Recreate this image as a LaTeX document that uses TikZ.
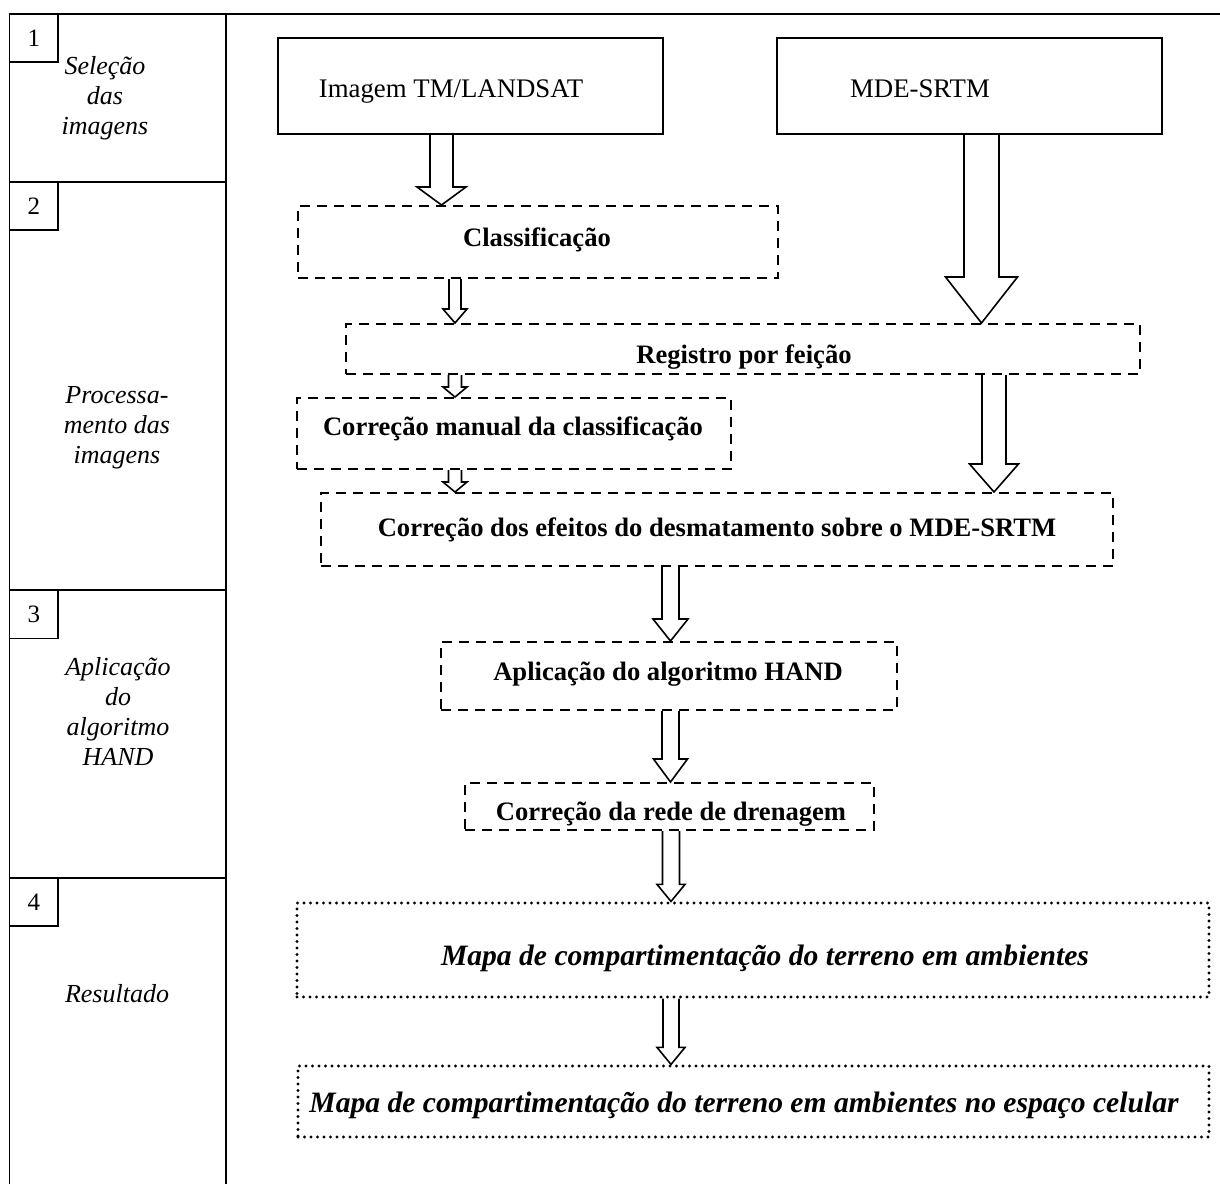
\documentclass[tikz,border=0pt]{standalone}
\usepackage{fontspec}
\setmainfont{Liberation Serif}
\usetikzlibrary{calc}

\tikzset{
  frame/.style={line width=0.8pt},
  solidbox/.style={draw, line width=0.8pt, inner sep=0pt},
  dashbox/.style={draw, line width=1pt, dash pattern=on 5pt off 3.5pt, inner sep=0pt},
  dotbox/.style={draw, line width=1.6pt, dash pattern=on 0pt off 3.25pt, line cap=round, inner sep=0pt},
  plaintext/.style={inner sep=0pt, text height=1em, text depth=0pt, font=\fontsize{13.4}{15}\selectfont},
  boldtext/.style={plaintext, font=\fontsize{13.3}{15}\selectfont\bfseries},
  maptext/.style={plaintext, font=\fontsize{14.8}{17}\selectfont\bfseries\itshape},
  numbox/.style={draw, line width=0.8pt, minimum width=24.25pt, minimum height=24pt, inner sep=0pt, font=\fontsize{12.5}{14}\selectfont},
  steplabel/.style={align=center, font=\fontsize{13}{15}\selectfont\itshape},
  fatline/.style={line width=0.8pt, line join=miter},
}

% block arrow: x, from, to, shaft half width, head half width, head length (px)
\newcommand{\fatarrow}[6]{%
  \draw[fatline] let \p1=(#2.south), \p2=(#3.north) in
    ({(#1-#4)*0.5pt},\y1) -- ({(#1-#4)*0.5pt},{\y2+#6*0.5pt})
    -- ({(#1-#5)*0.5pt},{\y2+#6*0.5pt}) -- ({#1*0.5pt},\y2)
    -- ({(#1+#5)*0.5pt},{\y2+#6*0.5pt}) -- ({(#1+#4)*0.5pt},{\y2+#6*0.5pt})
    -- ({(#1+#4)*0.5pt},\y1);}

\begin{document}
\begin{tikzpicture}[x=0.5pt, y=-0.5pt]
  \useasboundingbox (0,0) rectangle (1220,1184);

  % table
  \draw[frame] (9.5,1184) -- (9.5,14) -- (1220,14);
  \draw[frame] (226,14) -- (226,1184);
  \foreach \y in {182,590,878}
    \draw[frame] (9.5,\y) -- (226,\y);

  \node[numbox] (n1) at (33.75,38) {1};
  \node[numbox] (n2) at (33.75,206) {2};
  \node[numbox] (n3) at (33.75,614.5) {3};
  \node[numbox] (n4) at (33.75,902) {4};

  \node[steplabel] (s1) at (105,98) {Seleção\\das\\imagens};
  \node[steplabel] (s2) at (117,428) {Processa-\\mento das\\imagens};
  \node[steplabel] (s3) at (118,711) {Aplicação\\do\\algoritmo\\HAND};
  \node[steplabel] (s4) at (117,994) {Resultado};

  % boxes
  \node[solidbox, minimum width=192.5pt, minimum height=48pt] (img) at (470.5,86) {};
  \node[solidbox, minimum width=192.5pt, minimum height=48pt] (mde) at (969.5,86) {};
  \node[dashbox, minimum width=240pt, minimum height=36pt] (cls) at (538,242) {};
  \node[dashbox, minimum width=397pt, minimum height=25pt] (reg) at (743,349) {};
  \node[dashbox, minimum width=217pt, minimum height=35.5pt] (man) at (514,433.5) {};
  \node[dashbox, minimum width=396pt, minimum height=36.5pt] (efe) at (717,529.5) {};
  \node[dashbox, minimum width=228pt, minimum height=34pt] (hand) at (669,676) {};
  \node[dashbox, minimum width=204.5pt, minimum height=23.5pt] (rede) at (669.5,806.5) {};
  \node[dotbox, minimum width=456pt, minimum height=47pt] (mapa) at (753,950) {};
  \node[dotbox, minimum width=455.5pt, minimum height=35.5pt] (mapacel) at (753.5,1101.5) {};

  % texts
  \node[plaintext] (imgt) at (451,87) {Imagem TM/LANDSAT};
  \node[plaintext] (mdet) at (920,87) {MDE-SRTM};
  \node[boldtext] (clst) at (537,236) {Classificação};
  \node[boldtext] (regt) at (744,353) {Registro por feição};
  \node[boldtext] (mant) at (513,425) {Correção manual da classificação};
  \node[boldtext] (efet) at (717,526) {Correção dos efeitos do desmatamento sobre o MDE-SRTM};
  \node[boldtext] (handt) at (668,670) {Aplicação do algoritmo HAND};
  \node[boldtext] (redet) at (671,810) {Correção da rede de drenagem};
  \node[maptext] (mapat) at (765,955) {Mapa de compartimentação do terreno em ambientes};
  \node[maptext] (mapacelt) at (744,1102) {Mapa de compartimentação do terreno em ambientes no espaço celular};

  % arrows
  \fatarrow{441.5}{img}{cls}{11.5}{24.5}{18}
  \fatarrow{981.5}{mde}{reg}{17.5}{36}{46}
  \fatarrow{455}{cls}{reg}{6}{12}{14}
  \fatarrow{455}{reg}{man}{6.5}{12}{10}
  \fatarrow{994}{reg}{efe}{12}{24.5}{28}
  \fatarrow{455}{man}{efe}{6.5}{12}{10}
  \fatarrow{670.5}{efe}{hand}{8.5}{17.5}{22}
  \fatarrow{670.5}{hand}{rede}{8.5}{17}{23}
  \fatarrow{671}{rede}{mapa}{8.5}{14}{17}
  \fatarrow{671}{mapa}{mapacel}{8}{14}{17}
\end{tikzpicture}
\end{document}
